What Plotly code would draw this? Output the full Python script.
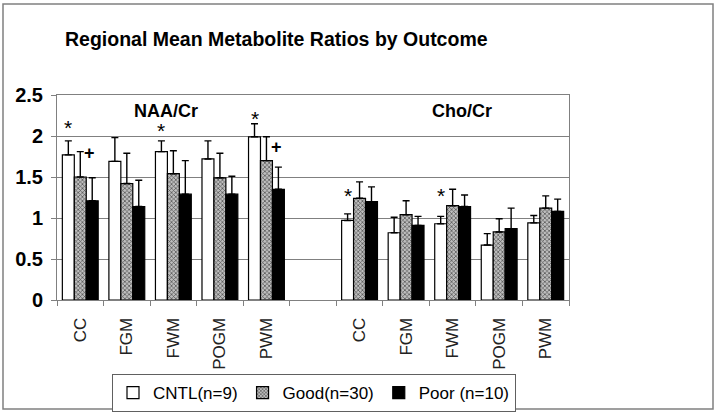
import plotly.graph_objects as go

# ---------------- data ----------------
regions = ["CC", "FGM", "FWM", "POGM", "PWM"]
groups = ["NAA/Cr", "Cho/Cr"]
series_names = ["CNTL(n=9)", "Good(n=30)", "Poor (n=10)"]

cntl_naa = [1.77, 1.69, 1.81, 1.72, 1.99]
good_naa = [1.50, 1.42, 1.54, 1.49, 1.70]
poor_naa = [1.21, 1.14, 1.29, 1.29, 1.35]
cntl_naa_err = [0.17, 0.29, 0.13, 0.22, 0.16]
good_naa_err = [0.31, 0.37, 0.28, 0.30, 0.29]
poor_naa_err = [0.28, 0.32, 0.41, 0.22, 0.27]

cntl_cho = [0.97, 0.82, 0.93, 0.67, 0.94]
good_cho = [1.24, 1.04, 1.15, 0.83, 1.12]
poor_cho = [1.20, 0.91, 1.14, 0.87, 1.08]
cntl_cho_err = [0.08, 0.19, 0.09, 0.14, 0.09]
good_cho_err = [0.20, 0.17, 0.20, 0.16, 0.15]
poor_cho_err = [0.18, 0.11, 0.14, 0.25, 0.15]

# significance markers: slot index and label height
star_slot = [0, 2, 4, 6, 8]
star_y = [2.16, 2.13, 2.27, 1.34, 1.34]
plus_slot = [0, 4]
plus_y = [1.79, 1.87]

y_ticks = [0, 0.5, 1, 1.5, 2, 2.5]
y_ticktext = ["0", "0.5", "1", "1.5", "2", "2.5"]

# ---------------- layout helpers ----------------
FONT = "Arial, 'Liberation Sans', sans-serif"
W, H = 720, 414
ML, MR, MT, MB = 57, 151, 95, 114
PW, PH = W - ML - MR, H - MT - MB

slots = list(range(0, 5)) + list(range(6, 11))
labels = regions + regions
BARGAP = 0.23
bw = (1 - BARGAP) / 3

values = [cntl_naa + cntl_cho, good_naa + good_cho, poor_naa + poor_cho]
errors = [cntl_naa_err + cntl_cho_err, good_naa_err + good_cho_err, poor_naa_err + poor_cho_err]
fills = [
    dict(color="white"),
    dict(color="#a0a0a0", pattern=dict(shape="x", size=3, solidity=0.4,
                                        fgcolor="#4a4a4a", bgcolor="#bebebe", fillmode="replace")),
    dict(color="black"),
]

fig = go.Figure()
for name, vals, errs, fill in zip(series_names, values, errors, fills):
    marker = dict(line=dict(color="black", width=1.2), **fill)
    fig.add_trace(go.Bar(
        x=slots, y=vals, name=name, marker=marker,
        error_y=dict(type="data", array=errs, arrayminus=[0] * len(errs),
                     symmetric=False, color="black", thickness=1.4, width=3.5),
    ))

annotations = []
for s, yv in zip(star_slot, star_y):
    annotations.append(dict(x=s - bw, y=yv, xref="x", yref="y", text="*", showarrow=False,
                            font=dict(family=FONT, size=21, color="black"), yshift=-5))
for s, yv in zip(plus_slot, plus_y):
    annotations.append(dict(x=s + bw * 0.8, y=yv, xref="x", yref="y", text="<b>+</b>", showarrow=False,
                            font=dict(family=FONT, size=18, color="black")))
annotations.append(dict(x=1.84, y=2.31, xref="x", yref="y", text="<b>NAA/Cr</b>", showarrow=False,
                        font=dict(family=FONT, size=18, color="black")))
annotations.append(dict(x=8.2, y=2.31, xref="x", yref="y", text="<b>Cho/Cr</b>", showarrow=False,
                        font=dict(family=FONT, size=18, color="black")))
# title
annotations.append(dict(x=(276 - ML) / PW, y=(H - 39 - MB) / PH, xref="paper", yref="paper",
                        text="<b>Regional Mean Metabolite Ratios by Outcome</b>", showarrow=False,
                        xanchor="center", yanchor="middle",
                        font=dict(family=FONT, size=19.5, color="black")))

# outer figure border
shapes = [dict(type="rect", xref="paper", yref="paper",
               x0=(3 - ML) / PW, x1=(713 - ML) / PW,
               y0=(H - 409 - MB) / PH, y1=(H - 4 - MB) / PH,
               line=dict(color="#808080", width=1.5), fillcolor="rgba(0,0,0,0)", layer="below")]

fig.update_layout(
    width=W, height=H,
    margin=dict(l=ML, r=MR, t=MT, b=MB, autoexpand=False),
    paper_bgcolor="white", plot_bgcolor="white",
    barmode="group", bargap=BARGAP, bargroupgap=0,
    showlegend=True,
    legend=dict(orientation="h", x=(314 - ML) / PW, xanchor="center", y=(300 - 374) / PH, yanchor="top",
                bordercolor="#606060", borderwidth=1, bgcolor="white",
                font=dict(family=FONT, size=17, color="black"),
                itemwidth=30, tracegroupgap=0, traceorder="normal"),
    annotations=annotations,
    shapes=shapes,
    font=dict(family=FONT, color="black"),
)

fig.update_xaxes(
    range=[-0.5, 10.5], tickmode="array", tickvals=slots, ticktext=labels,
    tickangle=-90, ticks="", ticklabelstandoff=10,
    tickfont=dict(family=FONT, size=17, color="#222222"),
    showline=True, linecolor="#808080", linewidth=1, mirror=True,
    showgrid=False, zeroline=False,
    minor=dict(tickmode="array", tickvals=[i - 0.5 for i in range(12)],
               ticks="outside", ticklen=5, tickcolor="#808080", tickwidth=1, showgrid=False),
)
fig.update_yaxes(
    range=[0, 2.5], tickmode="array", tickvals=y_ticks, ticktext=y_ticktext,
    ticks="outside", ticklen=5, tickcolor="#808080", ticklabelstandoff=4,
    tickfont=dict(family=FONT, size=20, color="black", weight="bold"),
    showline=True, linecolor="#808080", linewidth=1, mirror=True,
    showgrid=True, gridcolor="#808080", gridwidth=1, zeroline=False,
)

fig.write_html("out.html", config={"displayModeBar": False},
               post_script="document.body.style.margin='0';")
